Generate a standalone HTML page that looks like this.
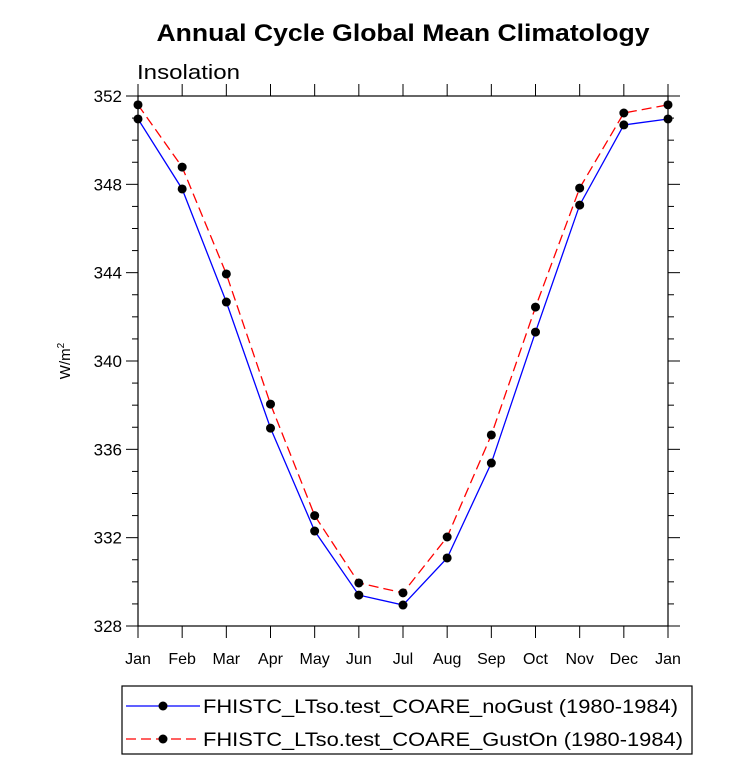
<!DOCTYPE html>
<html><head><meta charset="utf-8"><style>
html,body{margin:0;padding:0;background:#fff;}
svg{display:block;font-family:"Liberation Sans",Arial,sans-serif;}
</style></head><body>
<svg id="chart" width="732" height="763" viewBox="0 0 732 763">
<text x="403" y="41" text-anchor="middle" font-size="24" font-weight="bold" textLength="493" lengthAdjust="spacingAndGlyphs">Annual Cycle Global Mean Climatology</text>
<text x="137" y="79" font-size="20" textLength="103" lengthAdjust="spacingAndGlyphs">Insolation</text>
<text transform="translate(70,361) rotate(-90)" text-anchor="middle" font-size="15">W/m<tspan dy="-6" font-size="10">2</tspan></text>
<g id="axes"></g>
<g id="series"></g>
<g>
<rect x="122" y="686" width="570" height="68" fill="none" stroke="#000" stroke-width="1.2"/>
<line x1="126" y1="706" x2="200" y2="706" stroke="#0000ff" stroke-width="1.3"/>
<circle cx="163" cy="706" r="4.5" fill="#000"/>
<text x="203" y="713" font-size="19" textLength="475" lengthAdjust="spacingAndGlyphs">FHISTC_LTso.test_COARE_noGust (1980-1984)</text>
<line x1="126" y1="739" x2="200" y2="739" stroke="#ff0000" stroke-width="1.3" stroke-dasharray="10,5"/>
<circle cx="163" cy="739" r="4.5" fill="#000"/>
<text x="203" y="746" font-size="19" textLength="480" lengthAdjust="spacingAndGlyphs">FHISTC_LTso.test_COARE_GustOn (1980-1984)</text>
</g>
</svg>
<script>
const months=["Jan","Feb","Mar","Apr","May","Jun","Jul","Aug","Sep","Oct","Nov","Dec","Jan"];
const noGust=[350.96,347.79,342.67,336.96,332.3,329.4,328.95,331.08,335.38,341.31,347.06,350.69,350.96];
const gustOn=[351.6,348.78,343.94,338.05,333.0,329.95,329.5,332.03,336.65,342.44,347.83,351.23,351.6];
const yTicks=[328,332,336,340,344,348,352];
const X0=138,X1=668,Y0=96,Y1=626,YMIN=328,YMAX=352;
const xs=i=>X0+(X1-X0)*i/(months.length-1);
const ys=v=>Y1-(v-YMIN)/(YMAX-YMIN)*(Y1-Y0);
const NS="http://www.w3.org/2000/svg";
function mk(t,a,p){const e=document.createElementNS(NS,t);for(const k in a)e.setAttribute(k,a[k]);p.appendChild(e);return e;}
const ax=document.getElementById('axes');
const frame=mk('rect',{x:X0,y:Y0,width:X1-X0,height:Y1-Y0,fill:'none',stroke:'#000','stroke-width':1.2},ax);


for(let v=YMIN;v<=YMAX;v+=1){
  const major=(v-YMIN)%4===0, L=major?12:6, y=ys(v);
  mk('line',{x1:X0-L,y1:y,x2:X0,y2:y,stroke:'#000','stroke-width':1},ax);
  mk('line',{x1:X1,y1:y,x2:X1+L,y2:y,stroke:'#000','stroke-width':1},ax);
}
yTicks.forEach(v=>{
  const t=mk('text',{x:X0-16,y:ys(v)+6,'text-anchor':'end','font-size':17},ax);
  t.textContent=v;
  
  
});
months.forEach((m,i)=>{
  const x=xs(i);
  mk('line',{x1:x,y1:Y1,x2:x,y2:Y1+12,stroke:'#000','stroke-width':1},ax);
  mk('line',{x1:x,y1:Y0-12,x2:x,y2:Y0,stroke:'#000','stroke-width':1},ax);
  const t=mk('text',{x:x,y:Y1+38,'text-anchor':'middle','font-size':16},ax);
  t.textContent=m;
  
  
});
const sg=document.getElementById('series');
function series(vals,color,dash,name){
  const g=mk('g',{},sg);
  
  
  const pl=mk('polyline',{points:vals.map((v,i)=>xs(i)+','+ys(v)).join(' '),fill:'none',stroke:color,'stroke-width':1.3},g);
  if(dash)pl.setAttribute('stroke-dasharray',dash);
  vals.forEach((v,i)=>{
    const c=mk('circle',{cx:xs(i),cy:ys(v),r:4.5,fill:'#000'},g);
    
    
  });
}
series(noGust,'#0000ff',null,'series-nogust');
series(gustOn,'#ff0000','10,5','series-guston');
</script>
</body></html>
